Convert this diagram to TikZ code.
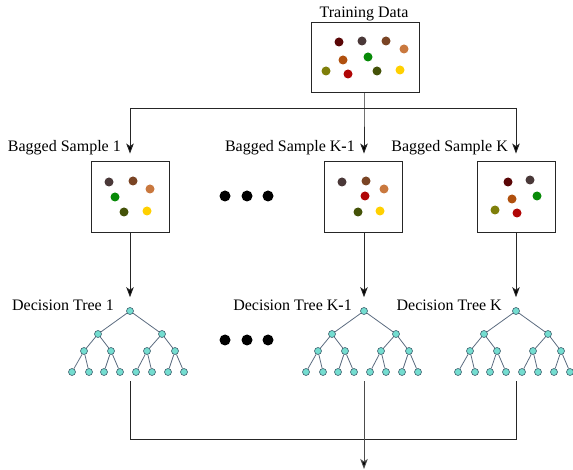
\documentclass[tikz,border=0pt]{standalone}
\usepackage{fontspec}
\setmainfont{Liberation Serif}
\usetikzlibrary{arrows.meta}

\definecolor{cMaroon}{HTML}{5A0606}
\definecolor{cTaupe}{HTML}{4A3838}
\definecolor{cBrown}{HTML}{7A4424}
\definecolor{cTan}{HTML}{C9783E}
\definecolor{cRust}{HTML}{B0500E}
\definecolor{cGreen}{HTML}{088A08}
\definecolor{cOlive}{HTML}{7F7F0A}
\definecolor{cRed}{HTML}{B00606}
\definecolor{cMoss}{HTML}{445208}
\definecolor{cGold}{HTML}{FFD000}
\definecolor{cNode}{HTML}{74DDD0}
\definecolor{cNodeLine}{HTML}{40606E}
\definecolor{cEdge}{HTML}{5C6C80}

\tikzset{
  box/.style={draw=black!85, line width=0.9pt, minimum width=78pt, minimum height=71pt, inner sep=0pt},
  lbl/.style={font=\fontsize{16}{19}\selectfont, inner sep=0pt},
  dot/.style={circle, fill=#1, minimum size=9pt, inner sep=0pt},
  bigdot/.style={circle, fill=black, minimum size=11pt, inner sep=0pt},
  tn/.style={circle, fill=cNode, draw=cNodeLine, line width=0.6pt, minimum size=7pt, inner sep=0pt},
  te/.style={draw=cEdge, line width=0.8pt},
  link/.style={draw=black!85, line width=0.9pt},
  arr/.style={link, -{Stealth[length=10pt, width=7.5pt, inset=2.5pt, fill=black]}},
  dtree/.pic={
    \node[tn] (-r)  at (0,311) {};
    \node[tn] (-a)  at (-32,334) {};
    \node[tn] (-b)  at (32,334) {};
    \node[tn] (-aa) at (-46,351) {};
    \node[tn] (-ab) at (-19,351) {};
    \node[tn] (-ba) at (17,351) {};
    \node[tn] (-bb) at (45,351) {};
    \node[tn] (-l1) at (-58,372) {};
    \node[tn] (-l2) at (-41,372) {};
    \node[tn] (-l3) at (-26,372) {};
    \node[tn] (-l4) at (-10,372) {};
    \node[tn] (-l5) at (6,372) {};
    \node[tn] (-l6) at (22,372) {};
    \node[tn] (-l7) at (38,372) {};
    \node[tn] (-l8) at (54,372) {};
    \draw[te] (-r) -- (-a);  \draw[te] (-r) -- (-b);
    \draw[te] (-a) -- (-aa); \draw[te] (-a) -- (-ab);
    \draw[te] (-b) -- (-ba); \draw[te] (-b) -- (-bb);
    \draw[te] (-aa) -- (-l1); \draw[te] (-aa) -- (-l2);
    \draw[te] (-ab) -- (-l3); \draw[te] (-ab) -- (-l4);
    \draw[te] (-ba) -- (-l5); \draw[te] (-ba) -- (-l6);
    \draw[te] (-bb) -- (-l7); \draw[te] (-bb) -- (-l8);
  }
}
\newcommand{\kdash}{{\bfseries -}}

\begin{document}
\begin{tikzpicture}[x=1pt, y=-1pt]
\useasboundingbox (0,0) rectangle (573,470);

% training data
\node[lbl] (tdl) at (364,14) {Training Data};
\node[box, minimum width=108pt, minimum height=70pt] (td) at (365,57) {};
\node[dot=cMaroon] (d1) at (339,42) {};
\node[dot=cTaupe]  (d2) at (362,41) {};
\node[dot=cBrown]  (d3) at (386,41) {};
\node[dot=cTan]    (d4) at (404,49) {};
\node[dot=cRust]   (d5) at (343,60) {};
\node[dot=cGreen]  (d6) at (368,57) {};
\node[dot=cOlive]  (d7) at (326,71) {};
\node[dot=cRed]    (d8) at (348,74) {};
\node[dot=cMoss]   (d9) at (377,71) {};
\node[dot=cGold]   (d10) at (400,70) {};

% bagged samples
\node[box] (b1) at (130,196.5) {};
\node[box] (bk1) at (363,196.5) {};
\node[box] (bk) at (516.5,196.5) {};

\node[lbl, anchor=east] (lb1) at (121,148) {Bagged Sample 1};
\node[lbl, anchor=east] (lbk1) at (355,148) {Bagged Sample K\kdash1};
\node[lbl, anchor=east] (lbk) at (508,148) {Bagged Sample K};

\node[dot=cTaupe] (s1) at (109,182) {};
\node[dot=cBrown] (s2) at (133,181) {};
\node[dot=cTan]   (s3) at (150,189) {};
\node[dot=cGreen] (s4) at (115,197) {};
\node[dot=cMoss]  (s5) at (124,212) {};
\node[dot=cGold]  (s6) at (147,211) {};

\node[dot=cTaupe] (u1) at (342,182) {};
\node[dot=cBrown] (u2) at (366,181) {};
\node[dot=cTan]   (u3) at (384,189) {};
\node[dot=cRed]   (u4) at (365,196) {};
\node[dot=cMoss]  (u5) at (358,212) {};
\node[dot=cGold]  (u6) at (380,211) {};

\node[dot=cMaroon] (v1) at (508,182) {};
\node[dot=cTaupe]  (v2) at (530,180) {};
\node[dot=cGreen]  (v3) at (537,196) {};
\node[dot=cRust]   (v4) at (512,199) {};
\node[dot=cOlive]  (v5) at (495,210) {};
\node[dot=cRed]    (v6) at (517,213) {};

\node[bigdot] (e1) at (225,196) {};
\node[bigdot] (e2) at (247,196) {};
\node[bigdot] (e3) at (268,196) {};

% distribution of the data to the samples
\coordinate (j) at (364,108);
\coordinate (jl) at (130,108);
\coordinate (jr) at (516,108);
\draw[arr, shorten >=7pt] (td.south -| j) -- (j) -- (j |- bk1.north);
\draw[link] (jl) -- (jr);
\draw[arr, shorten >=7pt] (jl) -- (jl |- b1.north);
\draw[arr, shorten >=7pt] (jr) -- (jr |- bk.north);

% decision trees
\pic (t1) at (130,0) {dtree};
\pic (tk1) at (364,0) {dtree};
\pic (tk) at (516,0) {dtree};

\node[lbl, anchor=east] (lt1) at (114,305) {Decision Tree 1};
\node[lbl, anchor=east] (ltk1) at (352,305) {Decision Tree K\kdash1};
\node[lbl, anchor=east] (ltk) at (502,305) {Decision Tree K};

\node[bigdot] (f1) at (225,340) {};
\node[bigdot] (f2) at (247,340) {};
\node[bigdot] (f3) at (268,340) {};

\draw[arr, shorten >=10pt] (b1.south -| t1-r) -- (t1-r);
\draw[arr, shorten >=10pt] (bk1.south -| tk1-r) -- (tk1-r);
\draw[arr, shorten >=10pt] (bk.south -| tk-r) -- (tk-r);

% aggregation of the trees
\coordinate (ol) at (130,381);
\coordinate (om) at (364,381);
\coordinate (or) at (516,381);
\coordinate (cl) at (130,439);
\coordinate (cr) at (516,439);
\coordinate (out) at (364,469);
\draw[link] (ol) -- (cl) -- (cr) -- (or);
\draw[arr, draw=black!70] (om) -- (out);
\end{tikzpicture}
\end{document}
